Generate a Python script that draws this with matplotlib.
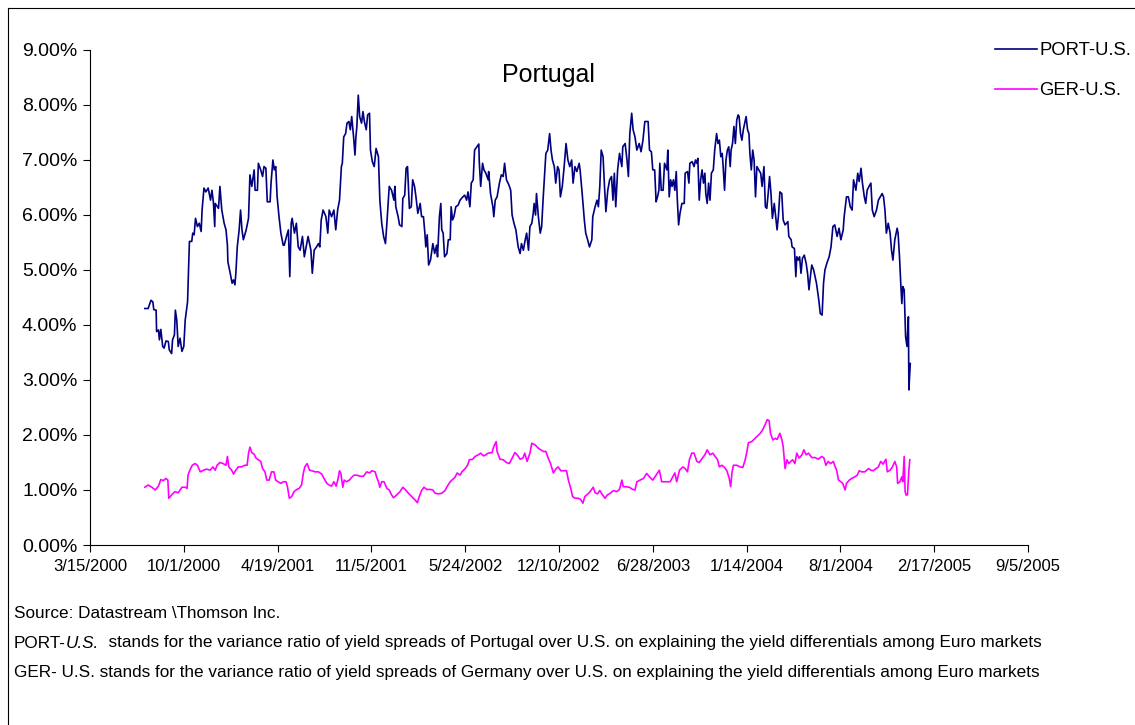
import matplotlib
matplotlib.use("Agg")
import matplotlib.pyplot as plt
from matplotlib.lines import Line2D
import pandas as pd

plt.rcParams['font.family'] = ['Liberation Sans', 'DejaVu Sans']

# days counted from 3/15/2000, values in percent
base_date = pd.Timestamp("2000-03-15")

port_days = [
    117, 124, 130, 134, 136, 141, 142, 146, 148, 151, 155, 158, 162, 167, 169, 174, 176, 180, 182, 185,
    188, 192, 196, 200, 203, 208, 210, 212, 217, 219, 222, 225, 229, 233, 237, 239, 243, 247, 252, 257,
    260, 263, 266, 267, 274, 277, 281, 286, 290, 293, 294, 299, 303, 306, 309, 311, 314, 318, 321, 324,
    327, 333, 338, 341, 345, 350, 352, 357, 359, 364, 368, 371, 375, 378, 384, 386, 390, 393, 396, 399,
    403, 407, 412, 414, 419, 423, 426, 429, 431, 436, 440, 444, 448, 453, 457, 461, 465, 471, 474, 478,
    483, 487, 490, 493, 497, 503, 507, 510, 515, 520, 524, 528, 532, 536, 538, 541, 545, 548, 552, 555,
    558, 562, 565, 567, 569, 572, 575, 579, 582, 585, 589, 592, 596, 598, 602, 606, 610, 615, 618, 622,
    626, 630, 633, 638, 643, 648, 650, 652, 657, 660, 665, 667, 671, 674, 677, 681, 685, 688, 692, 695,
    699, 704, 707, 711, 714, 716, 719, 722, 726, 731, 735, 739, 741, 745, 748, 750, 753, 756, 761, 764,
    768, 770, 773, 776, 780, 785, 789, 795, 799, 803, 806, 810, 813, 817, 820, 825, 829, 830, 833, 837,
    840, 844, 849, 850, 854, 859, 861, 864, 868, 873, 877, 881, 884, 888, 893, 897, 900, 904, 908, 913,
    917, 920, 924, 928, 931, 935, 938, 942, 945, 947, 950, 952, 956, 960, 963, 966, 969, 972, 976, 980,
    983, 986, 990, 993, 997, 1000, 1003, 1007, 1011, 1015, 1019, 1023, 1027, 1030, 1034, 1038, 1043, 1045, 1050, 1054,
    1057, 1061, 1065, 1070, 1072, 1077, 1081, 1084, 1087, 1090, 1094, 1097, 1100, 1104, 1108, 1112, 1115, 1118, 1121, 1125,
    1129, 1134, 1136, 1141, 1145, 1148, 1151, 1155, 1158, 1162, 1166, 1171, 1175, 1179, 1183, 1187, 1190, 1193, 1197, 1200,
    1204, 1207, 1210, 1213, 1215, 1218, 1222, 1225, 1230, 1232, 1235, 1238, 1241, 1244, 1247, 1250, 1252, 1255, 1258, 1262,
    1267, 1269, 1274, 1277, 1279, 1284, 1288, 1291, 1294, 1296, 1299, 1302, 1305, 1308, 1311, 1313, 1316, 1319, 1322, 1325,
    1329, 1332, 1336, 1339, 1342, 1345, 1348, 1350, 1353, 1356, 1359, 1362, 1365, 1367, 1370, 1373, 1376, 1379, 1382, 1384,
    1387, 1390, 1393, 1396, 1399, 1402, 1405, 1407, 1410, 1413, 1416, 1419, 1422, 1426, 1430, 1433, 1437, 1440, 1443, 1446,
    1449, 1452, 1455, 1459, 1462, 1465, 1468, 1471, 1475, 1478, 1482, 1488, 1490, 1495, 1497, 1502, 1505, 1507, 1510, 1513,
    1516, 1519, 1523, 1527, 1530, 1533, 1536, 1539, 1543, 1546, 1549, 1552, 1554, 1557, 1561, 1564, 1567, 1571, 1576, 1580,
    1584, 1588, 1593, 1597, 1601, 1606, 1608, 1613, 1617, 1621, 1625, 1628, 1633, 1637, 1640, 1644, 1647, 1651, 1654, 1657,
    1661, 1665, 1668, 1672, 1677, 1681, 1685, 1689, 1692, 1695, 1698, 1702, 1706, 1709, 1712, 1716, 1721, 1723, 1726, 1729,
    1731, 1733, 1736, 1739, 1742, 1745, 1746, 1749,
]
port_vals = [
    4.30, 4.30, 4.45, 4.42, 4.28, 4.27, 3.88, 3.91, 3.73, 3.92, 3.61, 3.58, 3.71, 3.70, 3.55, 3.48, 3.73, 3.82, 4.27, 4.09,
    3.61, 3.76, 3.52, 3.61, 4.09, 4.42, 4.94, 5.52, 5.52, 5.67, 5.64, 5.94, 5.79, 5.85, 5.70, 6.09, 6.49, 6.42, 6.49, 6.27,
    6.45, 6.24, 5.79, 6.21, 6.12, 6.52, 6.09, 5.85, 5.73, 5.45, 5.15, 4.94, 4.76, 4.82, 4.73, 4.94, 5.42, 5.73, 6.09, 5.73,
    5.55, 5.73, 5.94, 6.73, 6.52, 6.82, 6.45, 6.45, 6.94, 6.82, 6.70, 6.88, 6.85, 6.24, 6.24, 6.58, 7.00, 6.82, 6.88, 6.33,
    5.97, 5.67, 5.45, 5.45, 5.61, 5.73, 4.88, 5.85, 5.94, 5.67, 5.85, 5.42, 5.36, 5.61, 5.24, 5.42, 5.61, 5.36, 4.94, 5.36,
    5.42, 5.48, 5.42, 5.91, 6.09, 5.97, 5.67, 6.09, 5.97, 6.09, 5.73, 6.09, 6.27, 6.88, 6.94, 7.42, 7.48, 7.67, 7.70, 7.55,
    7.79, 7.42, 7.09, 7.42, 7.61, 8.18, 7.79, 7.67, 7.88, 7.70, 7.55, 7.82, 7.85, 7.18, 6.97, 6.88, 7.21, 7.06, 6.27, 5.85,
    5.61, 5.48, 5.85, 6.52, 6.45, 6.27, 6.52, 6.15, 5.97, 5.82, 5.79, 6.30, 6.36, 6.85, 6.88, 6.12, 6.15, 6.64, 6.52, 6.33,
    6.03, 6.21, 5.97, 5.97, 5.67, 5.42, 5.64, 5.09, 5.18, 5.48, 5.30, 5.45, 5.24, 5.97, 6.21, 5.73, 5.67, 5.24, 5.30, 5.55,
    5.55, 6.15, 5.91, 5.97, 6.15, 6.18, 6.27, 6.33, 6.36, 6.27, 6.42, 6.15, 6.58, 6.64, 7.18, 7.24, 7.29, 6.97, 6.52, 6.94,
    6.82, 6.76, 6.64, 6.79, 6.39, 6.15, 5.97, 6.27, 6.33, 6.58, 6.73, 6.70, 6.94, 6.64, 6.55, 6.45, 6.00, 5.85, 5.73, 5.42,
    5.30, 5.48, 5.36, 5.55, 5.67, 5.36, 5.79, 5.85, 6.03, 6.21, 6.00, 6.39, 5.97, 5.67, 5.79, 6.27, 6.70, 7.12, 7.18, 7.48,
    7.18, 7.00, 6.88, 6.58, 6.88, 6.82, 6.33, 6.52, 6.88, 7.30, 7.00, 6.88, 7.00, 6.58, 6.88, 6.79, 6.94, 6.82, 6.33, 5.91,
    5.67, 5.55, 5.42, 5.55, 5.97, 6.15, 6.27, 6.15, 6.52, 7.18, 7.06, 6.52, 6.06, 6.45, 6.64, 6.70, 6.27, 6.76, 6.15, 6.82,
    7.12, 6.88, 7.24, 7.30, 7.00, 6.70, 7.48, 7.85, 7.55, 7.42, 7.18, 7.30, 7.15, 7.36, 7.70, 7.70, 7.70, 7.18, 7.15, 6.82,
    6.82, 6.24, 6.33, 6.45, 6.94, 6.45, 6.45, 6.94, 6.82, 7.18, 6.33, 6.64, 6.52, 6.64, 6.45, 6.79, 6.33, 5.82, 6.03, 6.21,
    6.21, 6.76, 6.79, 6.58, 6.94, 6.97, 6.88, 7.00, 6.94, 7.03, 6.27, 6.64, 6.82, 6.58, 6.76, 6.39, 6.21, 6.58, 6.27, 6.76,
    6.82, 7.18, 7.48, 7.30, 7.36, 7.06, 7.12, 6.88, 6.45, 7.00, 7.18, 7.24, 6.88, 7.18, 7.30, 7.61, 7.30, 7.73, 7.82, 7.79,
    7.48, 7.36, 7.55, 7.67, 7.79, 7.55, 7.48, 7.12, 6.82, 7.18, 7.00, 6.33, 6.88, 6.82, 6.76, 6.52, 6.88, 6.15, 6.12, 6.39,
    6.70, 6.39, 5.94, 6.21, 5.97, 5.73, 6.00, 6.42, 6.39, 5.91, 5.82, 5.88, 5.61, 5.55, 5.42, 5.39, 4.88, 5.24, 5.18, 5.24,
    4.94, 5.21, 5.27, 5.12, 4.94, 4.64, 4.88, 5.09, 5.00, 4.88, 4.76, 4.58, 4.45, 4.21, 4.18, 4.76, 5.00, 5.12, 5.24, 5.42,
    5.79, 5.82, 5.61, 5.76, 5.55, 5.73, 5.97, 6.33, 6.33, 6.15, 6.09, 6.64, 6.45, 6.76, 6.61, 6.85, 6.58, 6.33, 6.21, 6.45,
    6.52, 6.58, 6.09, 5.97, 6.09, 6.27, 6.33, 6.39, 6.33, 6.09, 5.67, 5.85, 5.67, 5.36, 5.18, 5.55, 5.76, 5.67, 5.24, 4.70,
    4.39, 4.70, 4.64, 3.79, 3.61, 4.15, 2.82, 3.30,
]

ger_days = [
    117, 124, 132, 139, 146, 151, 156, 162, 166, 168, 174, 181, 188, 196, 203, 207, 209, 213, 218, 224,
    229, 235, 242, 249, 256, 262, 267, 271, 277, 284, 290, 293, 296, 302, 306, 311, 316, 323, 330, 335,
    338, 341, 345, 350, 354, 359, 364, 368, 373, 377, 382, 387, 392, 396, 401, 407, 412, 418, 421, 425,
    430, 435, 441, 446, 451, 455, 458, 463, 468, 473, 480, 487, 494, 499, 505, 510, 515, 520, 525, 529,
    532, 535, 539, 542, 547, 553, 558, 563, 569, 576, 583, 590, 596, 601, 608, 611, 615, 618, 622, 627,
    633, 638, 643, 647, 654, 661, 667, 672, 679, 686, 693, 698, 702, 707, 712, 718, 725, 731, 736, 743,
    750, 757, 762, 768, 773, 778, 783, 789, 793, 800, 805, 809, 816, 821, 828, 833, 839, 844, 849, 857,
    861, 866, 868, 874, 881, 888, 894, 899, 906, 911, 917, 923, 927, 932, 938, 942, 949, 956, 961, 967,
    972, 977, 982, 988, 994, 998, 1004, 1009, 1016, 1020, 1025, 1029, 1034, 1041, 1046, 1051, 1055, 1063, 1068, 1073,
    1077, 1082, 1087, 1093, 1098, 1103, 1109, 1116, 1123, 1129, 1134, 1137, 1143, 1150, 1157, 1162, 1166, 1173, 1180, 1187,
    1193, 1200, 1207, 1214, 1219, 1224, 1230, 1237, 1242, 1247, 1251, 1257, 1264, 1269, 1274, 1278, 1283, 1288, 1294, 1299,
    1304, 1311, 1316, 1322, 1328, 1333, 1338, 1342, 1347, 1352, 1358, 1363, 1366, 1369, 1372, 1379, 1386, 1392, 1397, 1400,
    1404, 1411, 1418, 1423, 1429, 1434, 1439, 1444, 1448, 1451, 1456, 1461, 1465, 1471, 1475, 1478, 1482, 1486, 1490, 1494,
    1498, 1503, 1507, 1512, 1518, 1522, 1527, 1532, 1539, 1546, 1553, 1560, 1565, 1569, 1574, 1579, 1585, 1588, 1592, 1596,
    1601, 1605, 1610, 1613, 1619, 1624, 1631, 1636, 1640, 1645, 1652, 1660, 1665, 1670, 1676, 1681, 1686, 1691, 1697, 1700,
    1706, 1711, 1716, 1720, 1722, 1727, 1731, 1733, 1736, 1738, 1740, 1743, 1746, 1748,
]
ger_vals = [
    1.05, 1.09, 1.05, 1.00, 1.07, 1.19, 1.17, 1.21, 1.18, 0.85, 0.91, 0.97, 0.95, 1.05, 1.05, 1.03, 1.27, 1.36, 1.45, 1.48,
    1.45, 1.33, 1.36, 1.38, 1.36, 1.42, 1.36, 1.45, 1.50, 1.48, 1.45, 1.61, 1.42, 1.36, 1.29, 1.36, 1.42, 1.42, 1.45, 1.45,
    1.67, 1.78, 1.68, 1.65, 1.58, 1.55, 1.52, 1.39, 1.33, 1.18, 1.18, 1.33, 1.33, 1.18, 1.15, 1.12, 1.15, 1.15, 1.06, 0.85,
    0.88, 0.97, 1.01, 1.03, 1.09, 1.31, 1.42, 1.48, 1.36, 1.35, 1.33, 1.33, 1.29, 1.21, 1.12, 1.09, 1.07, 1.15, 1.07, 1.21,
    1.35, 1.30, 1.05, 1.18, 1.15, 1.18, 1.23, 1.27, 1.27, 1.25, 1.25, 1.33, 1.31, 1.35, 1.33, 1.24, 1.15, 1.05, 1.15, 1.15,
    1.03, 1.00, 0.91, 0.86, 0.91, 0.97, 1.05, 1.01, 0.94, 0.88, 0.82, 0.77, 0.88, 0.99, 1.05, 1.01, 1.01, 1.00, 0.94, 0.93,
    0.94, 0.99, 1.07, 1.15, 1.19, 1.23, 1.31, 1.27, 1.33, 1.39, 1.45, 1.55, 1.56, 1.61, 1.64, 1.67, 1.62, 1.64, 1.67, 1.68,
    1.79, 1.88, 1.70, 1.56, 1.55, 1.50, 1.48, 1.56, 1.68, 1.64, 1.56, 1.58, 1.67, 1.52, 1.67, 1.85, 1.82, 1.76, 1.73, 1.70,
    1.70, 1.58, 1.48, 1.31, 1.39, 1.42, 1.35, 1.35, 1.35, 1.18, 1.03, 0.88, 0.85, 0.85, 0.83, 0.76, 0.88, 0.94, 0.99, 1.05,
    0.95, 0.93, 0.99, 0.91, 0.85, 0.91, 0.94, 0.99, 0.97, 1.01, 1.18, 1.06, 1.06, 1.05, 1.01, 1.00, 1.15, 1.18, 1.21, 1.30,
    1.24, 1.18, 1.27, 1.36, 1.15, 1.15, 1.15, 1.15, 1.23, 1.31, 1.15, 1.36, 1.42, 1.39, 1.33, 1.55, 1.67, 1.67, 1.52, 1.50,
    1.56, 1.64, 1.73, 1.64, 1.67, 1.61, 1.55, 1.42, 1.45, 1.42, 1.35, 1.21, 1.06, 1.33, 1.45, 1.45, 1.42, 1.41, 1.55, 1.67,
    1.86, 1.88, 1.94, 1.98, 2.03, 2.09, 2.18, 2.28, 2.26, 2.03, 1.91, 1.94, 1.92, 2.03, 1.92, 1.79, 1.39, 1.55, 1.48, 1.52,
    1.55, 1.48, 1.67, 1.58, 1.64, 1.73, 1.64, 1.67, 1.59, 1.59, 1.56, 1.61, 1.58, 1.45, 1.52, 1.48, 1.52, 1.44, 1.36, 1.18,
    1.15, 1.12, 1.00, 1.12, 1.18, 1.21, 1.24, 1.27, 1.35, 1.33, 1.33, 1.39, 1.36, 1.35, 1.39, 1.42, 1.52, 1.47, 1.56, 1.33,
    1.36, 1.42, 1.52, 1.42, 1.12, 1.15, 1.24, 1.15, 1.61, 0.97, 0.91, 0.91, 1.36, 1.55,
]

x_tick_labels = ["3/15/2000", "10/1/2000", "4/19/2001", "11/5/2001", "5/24/2002", "12/10/2002",
                 "6/28/2003", "1/14/2004", "8/1/2004", "2/17/2005", "9/5/2005"]
y_ticks = [0, 1, 2, 3, 4, 5, 6, 7, 8, 9]

series_names = ["PORT-U.S.", "GER-U.S."]
title = "Portugal"
source_note = "Source: Datastream \\Thomson Inc."
port_note_tail = "  stands for the variance ratio of yield spreads of Portugal over U.S. on explaining the yield differentials among Euro markets"
ger_note = "GER- U.S. stands for the variance ratio of yield spreads of Germany over U.S. on explaining the yield differentials among Euro markets"

port_dates = base_date + pd.to_timedelta(port_days, unit="D")
ger_dates = base_date + pd.to_timedelta(ger_days, unit="D")
tick_dates = pd.to_datetime(x_tick_labels, format="%m/%d/%Y")

W, H = 1135, 725
fig = plt.figure(figsize=(W / 100, H / 100), dpi=100)
ax = fig.add_axes([90 / W, 1 - 545 / H, 938 / W, 495 / H])

ax.plot(port_dates, port_vals, color="#000080", lw=1.2, label=series_names[0])
ax.plot(ger_dates, ger_vals, color="#FF00FF", lw=1.2, label=series_names[1])

ax.set_xlim(tick_dates[0], tick_dates[-1])
ax.set_xticks(tick_dates)
ax.set_xticklabels(x_tick_labels)
ax.set_ylim(0, 9)
ax.set_yticks(y_ticks)
ax.set_yticklabels([f"{v:.2f}%" for v in y_ticks])

for s in ["top", "right"]:
    ax.spines[s].set_visible(False)
for s in ["left", "bottom"]:
    ax.spines[s].set_linewidth(0.8)
ax.tick_params(direction="out", length=5, width=0.8, labelsize=12, pad=5)
ax.tick_params(axis="y", labelsize=14, pad=4)

fig.text(548 / W, 1 - 75 / H, title, fontsize=18, ha="center", va="center")

ax.legend(loc="upper left", bbox_to_anchor=(995 / W, 1 - 42 / H), bbox_transform=fig.transFigure,
          frameon=False, fontsize=13.3, handlelength=2.3, handletextpad=0.1, labelspacing=1.25,
          borderpad=0, borderaxespad=0)

# footnotes
note_size = 12.3
fig.text(14 / W, 1 - 614 / H, source_note, fontsize=note_size, va="center")
renderer = fig.canvas.get_renderer()
x = 14 / W
for txt, style in [("PORT-", "normal"), ("U.S.", "italic"), (port_note_tail, "normal")]:
    t = fig.text(x, 1 - 643 / H, txt, fontsize=note_size, style=style, va="center")
    x += t.get_window_extent(renderer).width / W
fig.text(14 / W, 1 - 672 / H, ger_note, fontsize=note_size, va="center")

# outer frame
fig.add_artist(Line2D([8 / W, 8 / W], [0, 1 - 8 / H], transform=fig.transFigure, color="black", lw=0.8))
fig.add_artist(Line2D([8 / W, 1], [1 - 8 / H, 1 - 8 / H], transform=fig.transFigure, color="black", lw=0.8))

fig.savefig("out.png", dpi=100)
